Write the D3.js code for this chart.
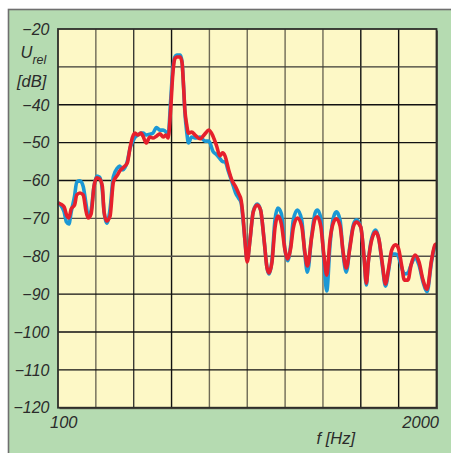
<!DOCTYPE html>
<html>
<head>
<meta charset="utf-8">
<script src="https://cdn.jsdelivr.net/npm/d3@7"></script>
<style>
  html, body { margin: 0; padding: 0; background: #ffffff; }
  svg { display: block; }
  text { font-family: "Liberation Sans", Arial, Helvetica, sans-serif; font-style: italic; fill: #2b2b2b; }
</style>
</head>
<body>
<svg id="chart" width="451" height="453"></svg>
<script>
// Frequency points (Hz) shared by both measured spectra
const freq = [
  100, 102, 105, 107, 109, 111, 114, 116, 119, 122, 125, 127, 130, 133, 136, 139, 142, 144, 147, 151,
  155, 160, 163, 167, 173, 177, 180, 184, 188, 193, 196, 201, 207, 212, 218, 224, 230, 235, 239, 244,
  248, 252, 256, 263, 267, 270, 273, 277, 281, 288, 296, 308, 320, 330, 341, 351, 360, 368, 375, 386,
  396, 408, 417, 426, 432, 439, 447, 457, 469, 484, 497, 511, 523, 531, 544, 557, 570, 586, 603, 616,
  631, 644, 665, 688, 706, 720, 745, 765, 779, 800, 821, 839, 861, 884, 906, 932, 956, 979, 1009, 1035,
  1060, 1098, 1127, 1148, 1166, 1198, 1236, 1269, 1302, 1336, 1366, 1403, 1446, 1478, 1519, 1550, 1596, 1635, 1687, 1741,
  1798, 1855, 1923, 1977, 2000
];

// Relative level, blue trace (dB)
const levelBlue = [
  -65.9, -66.5, -68.3, -71.0, -71.5, -68.3, -64.1, -60.4, -60.1, -61.5, -66.5, -69.6, -67.8, -61.5, -58.8, -59.1, -62.5, -68.3, -71.3, -67.5,
  -59.0, -56.7, -56.2, -57.2, -55.0, -51.4, -50.0, -48.6, -48.0, -47.5, -47.5, -48.0, -47.8, -47.5, -46.0, -46.7, -46.7, -47.2, -48.3, -38.7,
  -30.8, -27.4, -26.9, -26.9, -28.7, -34.8, -41.9, -47.2, -50.1, -48.5, -48.8, -48.5, -49.6, -49.6, -52.3, -53.2, -54.2, -55.0, -55.1, -57.8,
  -60.3, -63.3, -64.6, -65.9, -69.9, -75.7, -81.0, -75.7, -68.1, -66.2, -67.8, -75.7, -83.1, -84.7, -81.0, -70.4, -67.3, -68.8, -78.4, -81.2,
  -77.0, -70.4, -67.8, -70.4, -79.7, -84.2, -74.4, -68.6, -67.8, -69.9, -81.5, -89.2, -77.0, -69.9, -68.3, -70.4, -79.7, -84.2, -77.0, -71.8,
  -70.4, -72.3, -80.2, -87.6, -81.5, -75.2, -73.1, -75.7, -82.3, -87.9, -84.2, -79.4, -79.4, -80.0, -83.1, -84.7, -84.4, -82.3, -80.5, -82.3,
  -86.8, -89.4, -81.5, -77.3, -77.0
];

// Relative level, red trace (dB)
const levelRed = [
  -65.9, -66.2, -67.0, -69.1, -69.9, -67.5, -66.5, -63.8, -63.3, -63.8, -68.3, -69.9, -68.8, -61.5, -59.3, -59.6, -61.5, -68.3, -70.7, -69.4,
  -60.4, -58.6, -57.5, -56.7, -55.4, -51.2, -48.8, -47.5, -48.0, -47.5, -48.3, -50.1, -48.5, -48.8, -48.3, -47.7, -48.5, -48.0, -48.8, -41.0,
  -32.1, -27.9, -27.4, -27.4, -29.0, -34.8, -41.4, -45.3, -47.5, -47.2, -48.0, -49.0, -47.7, -46.7, -48.3, -50.9, -53.5, -52.7, -53.5, -57.2,
  -59.9, -61.7, -63.3, -65.2, -69.1, -75.7, -81.5, -75.7, -68.3, -66.5, -67.8, -75.7, -83.1, -84.4, -81.5, -72.5, -69.4, -71.5, -78.4, -80.7,
  -77.8, -72.5, -69.9, -72.0, -79.1, -82.6, -74.9, -70.1, -69.6, -72.0, -80.0, -85.0, -75.7, -71.2, -70.1, -72.0, -79.1, -83.1, -77.5, -72.3,
  -71.0, -72.3, -80.2, -87.1, -81.5, -75.7, -73.6, -75.7, -81.8, -87.3, -83.6, -78.4, -77.0, -77.8, -82.6, -86.3, -86.3, -82.3, -79.7, -81.5,
  -86.3, -88.7, -81.0, -77.0, -76.8
];

// Grid levels (dB) and the ones that carry a label; -30 gives way to the axis title
const yGrid = [-20, -30, -40, -50, -60, -70, -80, -90, -100, -110, -120];
const yTickLabels = [-20, -40, -50, -60, -70, -80, -90, -100, -110, -120];
const xTickLabels = ["100", "2000"];
const xDomain = [100, 2000];
const yDomain = [-120, -20];
const xDivisions = 10;

const svg = d3.select("#chart");

// Green panel with grey frame
svg.append("rect")
  .attr("x", 8.5).attr("y", 9.5)
  .attr("width", 460).attr("height", 460)
  .attr("fill", "#b5dbb1")
  .attr("stroke", "#6f6f6f")
  .attr("stroke-width", 1.6);

const plot = { left: 58, top: 29, right: 436.5, bottom: 407.7 };

const x = d3.scaleLog().domain(xDomain).range([plot.left, plot.right]);
const y = d3.scaleLinear().domain(yDomain).range([plot.bottom, plot.top]);

// Drop shadow and plot background
svg.append("rect")
  .attr("x", plot.left + 1.5).attr("y", plot.top + 1.5)
  .attr("width", plot.right - plot.left).attr("height", plot.bottom - plot.top)
  .attr("fill", "#5a5a50");
svg.append("rect")
  .attr("x", plot.left).attr("y", plot.top)
  .attr("width", plot.right - plot.left).attr("height", plot.bottom - plot.top)
  .attr("fill", "#fdf8c6");

// Grid: equal logarithmic divisions along x, 10 dB steps along y
const gridFreqs = d3.range(1, xDivisions).map(i =>
  xDomain[0] * Math.pow(xDomain[1] / xDomain[0], i / xDivisions));
const vColors = ["#6e6a56", "#3a3a34", "#111111", "#6e6a56", "#6e6a56", "#6e6a56", "#6e6a56", "#111111", "#111111"];
svg.append("g").selectAll("line")
  .data(gridFreqs).join("line")
  .attr("x1", d => x(d)).attr("x2", d => x(d))
  .attr("y1", plot.top).attr("y2", plot.bottom)
  .attr("stroke", (d, i) => vColors[i])
  .attr("stroke-width", 1.4);

const hColors = { "-30": "#3a3a34", "-70": "#55524a", "-80": "#55524a" };
svg.append("g").selectAll("line")
  .data(yGrid.filter(v => v > yDomain[0] && v < yDomain[1])).join("line")
  .attr("x1", plot.left).attr("x2", plot.right)
  .attr("y1", d => y(d)).attr("y2", d => y(d))
  .attr("stroke", d => hColors[d] || "#111111")
  .attr("stroke-width", 1.4);

// Traces: blue first, red on top
const line = d3.line()
  .x(d => x(d[0]))
  .y(d => y(d[1]))
  .curve(d3.curveMonotoneX);

const blueData = freq.map((f, i) => [f, levelBlue[i]]);
const redData = freq.map((f, i) => [f, levelRed[i]]);

svg.append("path")
  .datum(blueData)
  .attr("d", line)
  .attr("fill", "none")
  .attr("stroke", "#1b98d5")
  .attr("stroke-width", 3.6)
  .attr("stroke-linejoin", "round");

svg.append("path")
  .datum(redData)
  .attr("d", line)
  .attr("fill", "none")
  .attr("stroke", "#e6202c")
  .attr("stroke-width", 3.6)
  .attr("stroke-linejoin", "round");

// Plot frame
svg.append("rect")
  .attr("x", plot.left).attr("y", plot.top)
  .attr("width", plot.right - plot.left).attr("height", plot.bottom - plot.top)
  .attr("fill", "none")
  .attr("stroke", "#2e2e2a")
  .attr("stroke-width", 1.8);

// Y axis tick labels (with the true minus sign)
svg.append("g").selectAll("text")
  .data(yTickLabels).join("text")
  .attr("x", 49.5)
  .attr("y", d => y(d))
  .attr("dy", "0.36em")
  .attr("text-anchor", "end")
  .attr("font-size", 16)
  .text(d => d3.format("")(d).replace("-", "\u2212"));

// Y axis title: U_rel [dB]
const yTitle = svg.append("text")
  .attr("x", 20.5).attr("y", 58)
  .attr("font-size", 16.5);
yTitle.append("tspan").text("U");
yTitle.append("tspan").attr("dy", 6).attr("font-size", 12.5).text("rel");
svg.append("text")
  .attr("x", 17).attr("y", 86.5)
  .attr("font-size", 16.5)
  .text("[dB]");

// X axis tick labels and title
svg.append("g").selectAll("text")
  .data(xTickLabels).join("text")
  .attr("x", (d, i) => i === 0 ? x(+d) - 8 : x(+d) + 2.5)
  .attr("y", 428)
  .attr("text-anchor", (d, i) => i === 0 ? "start" : "end")
  .attr("font-size", 16.5)
  .text(d => d);

svg.append("text")
  .attr("x", 316.5).attr("y", 444)
  .attr("font-size", 16.5)
  .text("f [Hz]");
</script>
</body>
</html>
